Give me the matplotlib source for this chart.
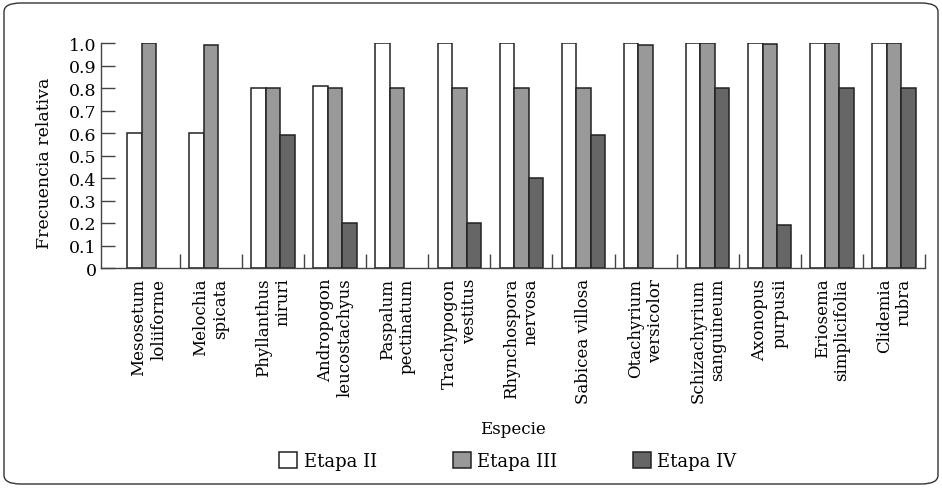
import numpy as np
import matplotlib
matplotlib.use("Agg")
import matplotlib.pyplot as plt
from matplotlib.patches import FancyBboxPatch, Patch
from matplotlib.ticker import FixedLocator

# === Data ===
species = [
    "Mesosetum\nloliiforme", "Melochia\nspicata", "Phyllanthus\nniruri",
    "Andropogon\nleucostachyus", "Paspalum\npectinatum", "Trachypogon\nvestitus",
    "Rhynchospora\nnervosa", "Sabicea villosa", "Otachyrium\nversicolor",
    "Schizachyrium\nsanguineum", "Axonopus\npurpusii", "Eriosema\nsimplicifolia",
    "Clidemia\nrubra",
]
etapa_2 = [0.60, 0.60, 0.80, 0.81, 1.00, 1.00, 1.00, 1.00, 1.00, 1.00, 1.00, 1.00, 1.00]
etapa_3 = [1.00, 0.99, 0.80, 0.80, 0.80, 0.80, 0.80, 0.80, 0.99, 1.00, 0.995, 1.00, 1.00]
etapa_4 = [0.00, 0.00, 0.59, 0.20, 0.00, 0.20, 0.40, 0.59, 0.00, 0.80, 0.19, 0.80, 0.80]
series_names = ["Etapa II", "Etapa III", "Etapa IV"]
y_ticks = [0, 0.1, 0.2, 0.3, 0.4, 0.5, 0.6, 0.7, 0.8, 0.9, 1.0]
y_tick_labels = ["0", "0.1", "0.2", "0.3", "0.4", "0.5", "0.6", "0.7", "0.8", "0.9", "1.0"]

plt.rcParams["font.family"] = ["DejaVu Serif"]
plt.rcParams["font.size"] = 12

W, H = 942, 489
fig = plt.figure(figsize=(W / 100, H / 100), dpi=100)

# rounded frame around the whole figure
frame = FancyBboxPatch((4 / W, 4 / H), 934 / W, 481 / H,
                       boxstyle="round,pad=0,rounding_size=0.018",
                       transform=fig.transFigure, fill=False,
                       edgecolor="#333333", linewidth=1.0)
fig.patches.append(frame)

ax = fig.add_axes([101 / W, (H - 269) / H, 824 / W, 225 / H])

x = np.arange(len(species))
bw = 0.233
colors = ["white", "#999999", "#666666"]
handles = []
for k, (vals, c, name) in enumerate(zip([etapa_2, etapa_3, etapa_4], colors, series_names)):
    lw = [1.1 if v > 0 else 0 for v in vals]  # empty bars leave no outline
    ax.bar(x + (k - 1) * bw, vals, width=bw, color=c, edgecolor="#222222",
           linewidth=lw)
    handles.append(Patch(facecolor=c, edgecolor="#222222", linewidth=1.1, label=name))

ax.set_xlim(-0.77, len(species) - 0.5)
ax.set_ylim(0, 1.0)

for s in ["top", "right"]:
    ax.spines[s].set_visible(False)
for s in ["left", "bottom"]:
    ax.spines[s].set_color("#444444")
    ax.spines[s].set_linewidth(1.0)

ax.set_yticks(y_ticks)
ax.set_yticklabels(y_tick_labels, fontsize=12.5)
ax.tick_params(axis="y", direction="in", length=10, width=1.0, color="#444444", pad=3)

ax.set_xticks(x)
ax.set_xticklabels(species, rotation=90, ha="center", va="top",
                   multialignment="right", fontsize=12, linespacing=1.2)
ax.tick_params(axis="x", which="major", length=0, pad=7)
ax.xaxis.set_minor_locator(FixedLocator(np.arange(0.5, len(species), 1.0)))
ax.tick_params(axis="x", which="minor", direction="in", length=10, width=1.0,
               color="#444444")

ax.set_ylabel("Frecuencia relativa", fontsize=12.5)
ax.yaxis.set_label_coords(-0.058, 0.47)

fig.text(513 / W, 1 - 430 / H, "Especie", ha="center", va="center", fontsize=12)

fig.legend(handles=handles, loc="center", bbox_to_anchor=(508 / W, 1 - 462 / H),
           ncol=3, frameon=False, fontsize=13, handlelength=1.0, handleheight=1.0,
           handletextpad=0.35, columnspacing=4.2)

fig.savefig("out.png", dpi=100)
